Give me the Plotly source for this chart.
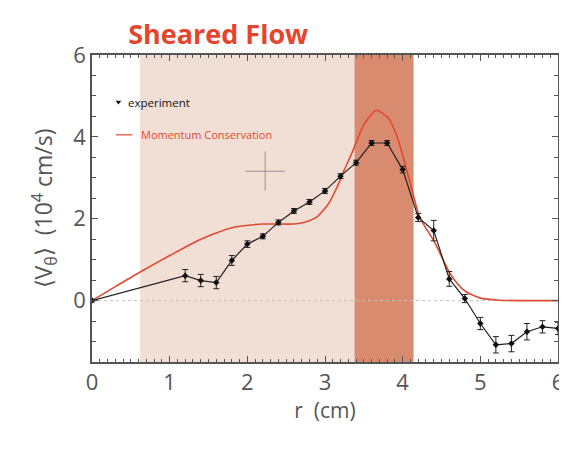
import plotly.graph_objects as go

# Experiment data
exp_r = [0.0, 1.2, 1.4, 1.6, 1.8, 2.0, 2.2, 2.4, 2.6, 2.8, 3.0, 3.2, 3.4, 3.6, 3.8, 4.0, 4.2, 4.4, 4.6, 4.8, 5.0, 5.2, 5.4, 5.6, 5.8, 6.0]
exp_v = [0.0, 0.61, 0.49, 0.44, 0.98, 1.38, 1.57, 1.91, 2.19, 2.41, 2.68, 3.04, 3.37, 3.85, 3.85, 3.2, 2.03, 1.71, 0.53, 0.05, -0.56, -1.08, -1.05, -0.76, -0.64, -0.68]
exp_err = [0.03, 0.15, 0.15, 0.15, 0.12, 0.08, 0.06, 0.06, 0.06, 0.06, 0.06, 0.06, 0.06, 0.06, 0.06, 0.08, 0.1, 0.25, 0.18, 0.1, 0.15, 0.2, 0.2, 0.2, 0.15, 0.15]

# Momentum conservation model curve
mc_r = [0.0, 0.3, 0.62, 1.0, 1.4, 1.8, 2.2, 2.6, 2.75, 2.9, 3.05, 3.15, 3.25, 3.35, 3.5, 3.66, 3.82, 3.92, 4.0, 4.1, 4.22, 4.41, 4.61, 4.72, 4.82, 5.0, 5.25, 5.6, 6.0]
mc_v = [0.0, 0.34, 0.70, 1.10, 1.50, 1.78, 1.87, 1.87, 1.92, 2.05, 2.38, 2.75, 3.2, 3.62, 4.3, 4.65, 4.45, 4.05, 3.55, 2.85, 2.03, 1.43, 0.66, 0.38, 0.21, 0.06, 0.01, 0.0, 0.0]

# Shaded regions (r ranges)
light_region = [0.62, 3.38]
dark_region = [3.38, 4.14]

# Reference cross
cross_r = [2.23]
cross_v = [3.16]

x_ticks = [0, 1, 2, 3, 4, 5, 6]
y_ticks = [0, 2, 4, 6]

FONT = "Open Sans"
AXIS_COLOR = "#555555"
RED = "#e04a30"

fig = go.Figure()

fig.add_shape(type="rect", xref="x", yref="paper", x0=light_region[0], x1=light_region[1], y0=0, y1=1,
              fillcolor="#f1dfd5", line_width=0, layer="below")
fig.add_shape(type="rect", xref="x", yref="paper", x0=dark_region[0], x1=dark_region[1], y0=0, y1=1,
              fillcolor="#d98b6f", line_width=0, layer="below")

# zero dotted line
fig.add_trace(go.Scatter(x=[0, 6], y=[0, 0], mode="lines",
                         line=dict(color="#c8c0bc", width=1, dash="dot"),
                         showlegend=False, hoverinfo="skip"))

# reference cross
fig.add_trace(go.Scatter(x=cross_r, y=cross_v, mode="markers",
                         marker=dict(symbol="cross-thin", size=28, line=dict(color="#9a9090", width=1)),
                         showlegend=False, hoverinfo="skip"))

# model curve
fig.add_trace(go.Scatter(x=mc_r, y=mc_v, mode="lines", line=dict(color=RED, width=1.6, shape="spline", smoothing=0.6),
                         showlegend=False))

# experiment
fig.add_trace(go.Scatter(x=exp_r, y=exp_v, mode="lines+markers",
                         line=dict(color="#222222", width=1.2),
                         marker=dict(symbol="diamond", size=5, color="#111111"),
                         error_y=dict(type="data", array=exp_err, visible=True, color="#222222", thickness=1, width=3),
                         showlegend=False))

# legend (drawn manually)
fig.add_trace(go.Scatter(x=[0.34], y=[4.85], mode="markers",
                         marker=dict(symbol="triangle-down", size=5, color="#111111"),
                         showlegend=False, hoverinfo="skip"))
fig.add_annotation(x=0.44, y=4.85, text="experiment", showarrow=False, xanchor="left",
                   font=dict(family=FONT, size=11.5, color="#111111"))
fig.add_trace(go.Scatter(x=[0.31, 0.52], y=[4.05, 4.05], mode="lines",
                         line=dict(color=RED, width=1.2), showlegend=False, hoverinfo="skip"))
fig.add_annotation(x=0.6, y=4.05, text="Momentum Conservation", showarrow=False, xanchor="left",
                   font=dict(family=FONT, size=11, color=RED))

# page body has an 8px margin: size figure to compensate
fig.update_layout(
    width=559, height=445,
    margin=dict(l=84, r=9, t=47, b=91),
    paper_bgcolor="white", plot_bgcolor="white",
    title=dict(text="<b>Sheared Flow</b>", x=0.376, xanchor="center", y=0.94, yanchor="middle",
               font=dict(family=FONT, size=27, color="#e5452d")),
    showlegend=False,
)

fig.update_xaxes(range=[0, 6], tickvals=x_ticks, ticktext=[str(v) for v in x_ticks],
                 ticks="inside", ticklen=6, tickcolor=AXIS_COLOR,
                 minor=dict(dtick=0.1, ticks="inside", ticklen=3, tickcolor=AXIS_COLOR),
                 showline=True, linecolor=AXIS_COLOR, linewidth=1.5, mirror="ticks",
                 showgrid=False, zeroline=False, automargin=False,
                 tickfont=dict(family=FONT, size=22, color=AXIS_COLOR),
                 title=dict(text="r  (cm)", font=dict(family=FONT, size=21, color=AXIS_COLOR), standoff=2))
fig.update_yaxes(range=[-1.5, 6], tickvals=y_ticks, ticktext=[str(v) for v in y_ticks],
                 ticks="inside", ticklen=6, tickcolor=AXIS_COLOR,
                 minor=dict(dtick=0.5, ticks="inside", ticklen=4, tickcolor=AXIS_COLOR),
                 showline=True, linecolor=AXIS_COLOR, linewidth=1.5, mirror="ticks",
                 showgrid=False, zeroline=False, automargin=False,
                 tickfont=dict(family=FONT, size=22, color=AXIS_COLOR),
                 title=dict(text="⟨V<sub>θ</sub>⟩  (10<sup>4</sup> cm/s)", font=dict(family=FONT, size=23, color=AXIS_COLOR), standoff=14))

fig.write_html("out.html")
